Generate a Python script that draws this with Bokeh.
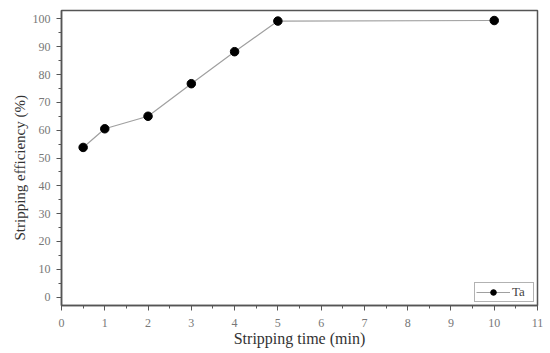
from bokeh.plotting import figure
from bokeh.models import Range1d, FixedTicker, Legend, LegendItem, Title
from bokeh.embed import file_html
from bokeh.resources import INLINE

time_min = [0.5, 1, 2, 3, 4, 5, 10]
efficiency = [53.8, 60.5, 65.0, 76.7, 88.2, 99.2, 99.4]
x_ticks = list(range(0, 12))
y_ticks = list(range(0, 101, 10))

p = figure(width=550, height=353, output_backend="svg", toolbar_location=None,
           x_range=Range1d(0, 11), y_range=Range1d(-3, 103),
           min_border_left=61, min_border_right=13, min_border_top=10, min_border_bottom=48)
p.grid.visible = False
p.outline_line_color = "#555555"
p.outline_line_width = 1.5

ln = p.line(time_min, efficiency, line_color="#a0a0a0", line_width=1.2)
sc = p.scatter(time_min, efficiency, size=8.5, fill_color="black", line_color="black")

font = "Liberation Serif"
for ax in (p.xaxis[0], p.yaxis[0]):
    ax.axis_line_color = "#555555"
    ax.axis_line_width = 1.5
    ax.major_tick_line_color = "#555555"
    ax.minor_tick_line_color = "#555555"
    ax.major_tick_out = 5
    ax.major_tick_in = 0
    ax.minor_tick_out = 3
    ax.minor_tick_in = 0
    ax.major_label_text_font = font
    ax.major_label_text_font_size = "12px"
    ax.major_label_text_color = "#777777"
    ax.axis_label_text_font = font
    ax.axis_label_text_font_style = "normal"
    ax.axis_label_text_color = "#333333"

p.xaxis.ticker = FixedTicker(ticks=x_ticks, minor_ticks=[t + 0.5 for t in x_ticks[:-1]])
p.yaxis.ticker = FixedTicker(ticks=y_ticks, minor_ticks=[t + 5 for t in y_ticks[:-1]])
p.xaxis.axis_label = "Stripping time (min)"
p.xaxis.axis_label_text_font_size = "16px"
p.xaxis.major_label_standoff = 8
p.yaxis.major_label_standoff = 6
p.xaxis.axis_label_standoff = 0

ytitle = Title(text="Stripping efficiency (%)", align="left", offset=65,
               text_font=font, text_font_size="15px", text_font_style="normal",
               text_color="#333333", standoff=4)
p.add_layout(ytitle, "left")

legend = Legend(items=[LegendItem(label="Ta", renderers=[ln, sc])], location="bottom_right")
legend.label_text_font = font
legend.label_text_font_size = "13px"
legend.label_text_color = "#444444"
legend.border_line_color = "#666666"
legend.border_line_width = 1
legend.padding = 1
legend.margin = 3
legend.glyph_width = 34
legend.label_standoff = 2
legend.spacing = 0
legend.glyph_height = 14
legend.label_height = 14
p.add_layout(legend)

open("out.html", "w").write(file_html(p, INLINE))
